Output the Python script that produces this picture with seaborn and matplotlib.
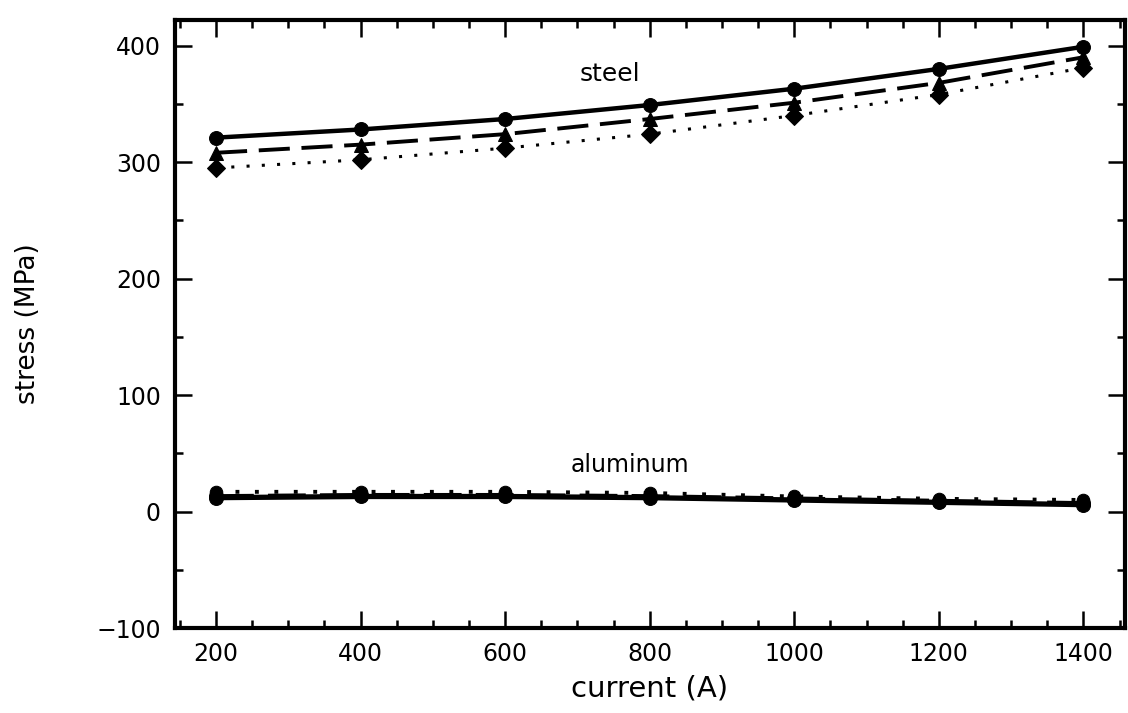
import numpy as np
import pandas as pd
import seaborn as sns
import matplotlib.pyplot as plt
from matplotlib.ticker import MultipleLocator

# current (A)
current = [200, 400, 600, 800, 1000, 1200, 1400]

# steel stress (MPa), three curves
steel_solid = [321, 328, 337, 349, 363, 380, 399]
steel_dashed = [308, 315, 324, 337, 351, 368, 390]
steel_dotted = [295, 302, 312, 324, 340, 358, 381]

# aluminum stress (MPa), three curves
alu_solid = [12, 13, 13, 12, 10, 8, 6]
alu_dashed = [13, 14, 14, 13, 11, 9, 7]
alu_dotted = [17, 17, 17, 16, 13, 11, 10]

sns.set_style("ticks")
plt.rcParams['font.family'] = ['DejaVu Sans']
plt.rcParams['text.color'] = 'black'
plt.rcParams['axes.labelcolor'] = 'black'
plt.rcParams['xtick.color'] = 'black'
plt.rcParams['ytick.color'] = 'black'

fig = plt.figure(figsize=(11.28, 7.13), dpi=100)
ax = fig.add_axes([0.155, 0.119, 0.842, 0.853])

styles = [
    ("-", "o", 3.2, 10),
    ((0, (8, 3)), "^", 2.8, 10),
    ((0, (1, 4)), "D", 2.2, 9),
]

for vals, (ls, mk, lw, ms) in zip([steel_solid, steel_dashed, steel_dotted], styles):
    sns.lineplot(x=current, y=vals, ax=ax, color="black", linestyle=ls,
                 linewidth=lw, marker=mk, markersize=ms, markeredgecolor="black")

for vals, (ls, mk, lw, ms) in zip([alu_solid, alu_dashed, alu_dotted], styles):
    sns.lineplot(x=current, y=vals, ax=ax, color="black", linestyle=ls,
                 linewidth=lw + 0.6, marker="o", markersize=ms, markeredgecolor="black")

ax.text(745, 376, "steel", fontsize=18, ha="center", va="center")
ax.text(773, 40, "aluminum", fontsize=17, ha="center", va="center")

ax.set_xlim(143, 1457)
ax.set_ylim(-100, 422)
ax.xaxis.set_major_locator(MultipleLocator(200))
ax.xaxis.set_minor_locator(MultipleLocator(50))
ax.yaxis.set_major_locator(MultipleLocator(100))
ax.yaxis.set_minor_locator(MultipleLocator(50))
ax.tick_params(which="both", direction="in", top=True, right=True, width=1.8)
ax.tick_params(which="major", length=12, labelsize=17, pad=10)
ax.tick_params(which="minor", length=6)
for s in ax.spines.values():
    s.set_linewidth(3)
    s.set_color("black")

ax.set_xlabel("current (A)", fontsize=21, labelpad=6)
ax.set_ylabel("stress (MPa)", fontsize=19, labelpad=40)

fig.savefig("out.png", dpi=100)
